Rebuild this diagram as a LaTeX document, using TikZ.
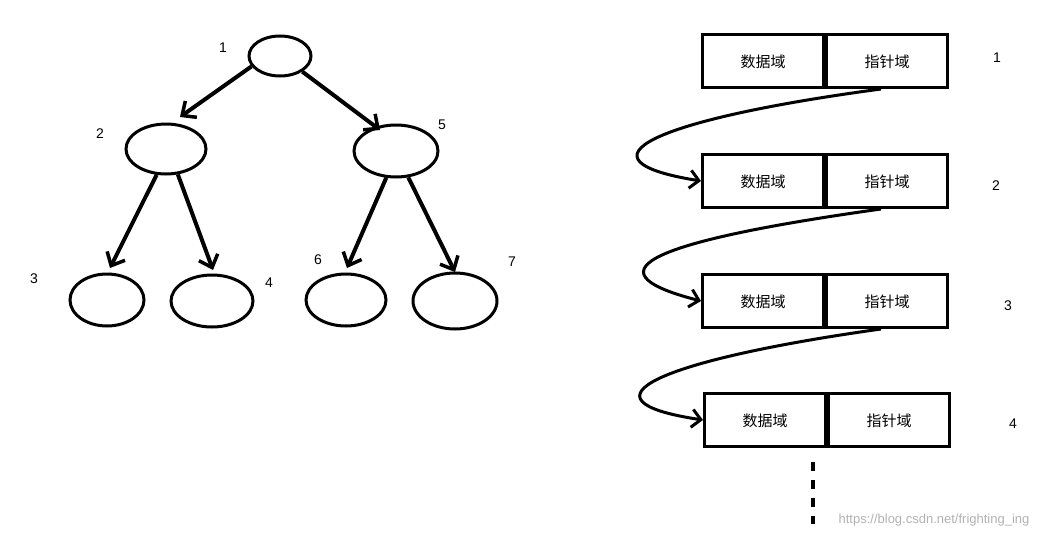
\documentclass[tikz,border=0pt]{standalone}
\usepackage{fontspec}
\newfontfamily\cjk{Noto Sans CJK SC}
\setmainfont{Liberation Sans}
\usetikzlibrary{shapes.geometric,arrows.meta}
\begin{document}
\begin{tikzpicture}[x=1pt,y=-1pt,
  nd/.style={draw,ellipse,line width=3pt,inner sep=0pt},
  arr/.style={line width=4pt,-{Straight Barb[length=11pt,width=20pt,line width=3.5pt]}},
  lbl/.style={font=\fontsize{14}{14}\selectfont},
  cell/.style={draw,line width=3pt,minimum width=121pt,minimum height=53pt,font=\cjk\fontsize{15}{15}\selectfont,inner sep=0pt,text depth=-8pt},
  link/.style={line width=3pt,-{Straight Barb[length=9pt,width=18pt,line width=3pt]}}]
\useasboundingbox (0,0) rectangle (1059,538);
\node[nd,minimum width=62pt,minimum height=40pt] (n1) at (280,56) {};
\node[nd,minimum width=80pt,minimum height=50pt] (n2) at (166,149) {};
\node[nd,minimum width=84pt,minimum height=52pt] (n5) at (396,151) {};
\node[nd,minimum width=74pt,minimum height=52pt] (n3) at (107,300) {};
\node[nd,minimum width=82pt,minimum height=52pt] (n4) at (212,301) {};
\node[nd,minimum width=80pt,minimum height=52pt] (n6) at (346,300) {};
\node[nd,minimum width=84pt,minimum height=56pt] (n7) at (455,301) {};
\node[lbl] (l1) at (223,48) {1};
\node[lbl] (l2) at (100,134) {2};
\node[lbl] (l5) at (442,125) {5};
\node[lbl] (l3) at (34,279) {3};
\node[lbl] (l4) at (269,283) {4};
\node[lbl] (l6) at (318,260) {6};
\node[lbl] (l7) at (512,262) {7};
\coordinate (a2) at (180,117); \coordinate (a5) at (380,130);
\coordinate (a3) at (110,268); \coordinate (a4) at (213,270);
\coordinate (a6) at (347,268); \coordinate (a7) at (455,272);
\draw[arr] (n1.200) -- (a2);
\draw[arr] (n1.-35) -- (a5);
\draw[arr] (n2.250) -- (a3);
\draw[arr] (n2.-65) -- (a4);
\draw[arr] (n5.250) -- (a6);
\draw[arr] (n5.-65) -- (a7);
\foreach \i/\y/\xo in {1/61/0,2/181/0,3/301/0,4/420/2}{
  \node[cell,anchor=east] (d\i) at (825+\xo,\y) {数据域};
  \node[cell,anchor=west] (p\i) at (825+\xo,\y) {指针域};
}
\node[lbl] (r1) at (997,58) {1};
\node[lbl] (r2) at (996,186) {2};
\node[lbl] (r3) at (1008,306) {3};
\node[lbl] (r4) at (1013,424) {4};
\draw[link] ([xshift=-6pt]p1.south) .. controls (650,120) and (570,160) .. (d2.west);
\draw[link] ([xshift=-6pt]p2.south) .. controls (660,240) and (580,270) .. (d3.west);
\draw[link] ([xshift=-6pt]p3.south) .. controls (660,360) and (570,400) .. (d4.west);
\coordinate (t1) at (813,462); \coordinate (t2) at (813,524);
\draw[line width=3.5pt,dash pattern=on 9pt off 9pt] (t1) -- (t2);
\node[text=gray!60,font=\fontsize{13}{13}\selectfont] (wm) at (934,520) {https://blog.csdn.net/frighting\_ing};
\end{tikzpicture}
\end{document}
